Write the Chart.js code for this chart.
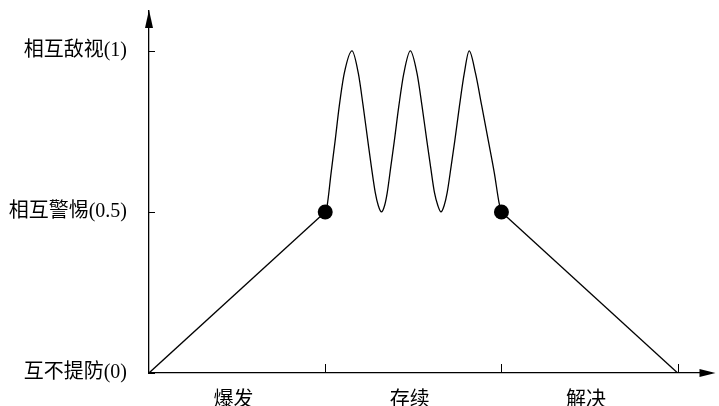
<!DOCTYPE html>
<html>
<head>
<meta charset="utf-8">
<script src="https://cdn.jsdelivr.net/npm/chart.js@4.4.1/dist/chart.umd.min.js"></script>
<style>
  html, body { margin: 0; padding: 0; background: #fff; }
  #wrap { width: 719px; height: 406px; }
</style>
</head>
<body>
<div id="wrap"><canvas id="c"></canvas></div>
<script>
// stages along the x axis, and the attitude levels on the y axis
const categories = ['爆发', '存续', '解决'];
const levelValues = [0, 0.5, 1];
const levelLabels = ['互不提防(0)', '相互警惕(0.5)', '相互敌视(1)'];
const stageBounds = [1, 2, 3];

// outbreak: straight rise
const riseX = [0, 1];
const riseY = [0, 0.5];

// persistence: oscillation
const waveX = [1.000, 1.011, 1.033, 1.056, 1.080, 1.108, 1.152,
               1.188, 1.215, 1.242, 1.262, 1.284, 1.301, 1.319,
               1.337, 1.352, 1.372, 1.392, 1.418, 1.446, 1.483,
               1.521, 1.549, 1.577, 1.598, 1.620, 1.639, 1.657,
               1.675, 1.692, 1.714, 1.735, 1.762, 1.789, 1.817,
               1.853, 1.888, 1.926, 1.960, 1.986, 2.000];
const waveY = [0.50, 0.52, 0.62, 0.72, 0.83, 0.93, 1.00,
               0.93, 0.83, 0.72, 0.64, 0.56, 0.52, 0.50,
               0.52, 0.56, 0.64, 0.72, 0.83, 0.93, 1.00,
               0.93, 0.83, 0.72, 0.64, 0.56, 0.52, 0.50,
               0.52, 0.56, 0.64, 0.72, 0.83, 0.93, 1.00,
               0.93, 0.83, 0.72, 0.62, 0.53, 0.50];

// resolution: straight fall
const fallX = [2, 3];
const fallY = [0.5, 0];

// the two turning points
const markerX = [1, 2];
const markerY = [0.5, 0.5];

const FONT = "'Liberation Serif', 'Noto Sans CJK SC', serif";

function pts(xs, ys) {
    return xs.map((x, i) => ({x: x, y: ys[i]}));
}

// arrows at the ends of the axes and the short inward ticks
const axisDecor = {
    id: 'axisDecor',
    afterDraw(chart) {
        const ctx = chart.ctx;
        const a = chart.chartArea;
        const xs = chart.scales.x, ys = chart.scales.y;
        const ox = xs.getPixelForValue(0), oy = ys.getPixelForValue(0);
        ctx.save();
        ctx.strokeStyle = '#000';
        ctx.fillStyle = '#000';
        ctx.lineWidth = 1;
        // y ticks, pointing right
        levelValues.forEach(v => {
            const py = Math.round(ys.getPixelForValue(v)) + 0.5;
            ctx.beginPath();
            ctx.moveTo(ox, py);
            ctx.lineTo(ox + 6, py);
            ctx.stroke();
        });
        // x ticks, pointing up
        stageBounds.forEach(v => {
            const px = Math.round(xs.getPixelForValue(v)) + 0.5;
            ctx.beginPath();
            ctx.moveTo(px, oy);
            ctx.lineTo(px, oy - 9);
            ctx.stroke();
        });
        // arrow heads
        ctx.beginPath();
        ctx.moveTo(ox, a.top - 1);
        ctx.lineTo(ox - 4, a.top + 17);
        ctx.lineTo(ox + 4, a.top + 17);
        ctx.closePath();
        ctx.fill();
        ctx.beginPath();
        ctx.moveTo(a.right + 4, oy);
        ctx.lineTo(a.right - 12, oy - 4);
        ctx.lineTo(a.right - 12, oy + 4);
        ctx.closePath();
        ctx.fill();
        ctx.restore();
    }
};

const lineStyle = {
    borderColor: '#000',
    borderWidth: 1.3,
    pointRadius: 0,
    fill: false
};

new Chart(document.getElementById('c'), {
    type: 'scatter',
    data: {
        datasets: [
            Object.assign({data: pts(riseX, riseY), showLine: true}, lineStyle),
            Object.assign({data: pts(waveX, waveY), showLine: true,
                           cubicInterpolationMode: 'monotone'}, lineStyle),
            Object.assign({data: pts(fallX, fallY), showLine: true}, lineStyle),
            {
                data: pts(markerX, markerY),
                showLine: false,
                pointRadius: 7.5,
                pointBackgroundColor: '#000',
                pointBorderColor: '#000',
                pointBorderWidth: 0
            }
        ]
    },
    options: {
        responsive: true,
        maintainAspectRatio: false,
        animation: false,
        layout: {padding: {top: 11, right: 1, left: 0, bottom: 0}},
        plugins: {legend: {display: false}, tooltip: {enabled: false}},
        scales: {
            x: {
                type: 'linear',
                min: 0,
                max: 3.192,
                afterBuildTicks(s) {
                    s.ticks = categories.map((c, i) => ({value: i + 0.48}));
                },
                afterFit(s) {
                    s.height = 33;
                    s.paddingLeft = 0;
                    s.paddingRight = 0;
                },
                ticks: {
                    autoSkip: false,
                    maxRotation: 0,
                    padding: 8,
                    color: '#000',
                    font: {family: FONT, size: 20},
                    callback: (v) => categories[Math.floor(v)]
                },
                grid: {display: false},
                border: {display: true, color: '#000', width: 1.3}
            },
            y: {
                type: 'linear',
                min: 0,
                max: 1.124,
                afterBuildTicks(s) {
                    s.ticks = levelValues.map(v => ({value: v}));
                },
                afterFit(s) {
                    s.width = 149;
                    s.paddingTop = 0;
                    s.paddingBottom = 0;
                },
                ticks: {
                    autoSkip: false,
                    padding: 14,
                    color: '#000',
                    font: {family: FONT, size: 20},
                    callback: (v) => levelLabels[levelValues.indexOf(v)]
                },
                grid: {display: false},
                border: {display: true, color: '#000', width: 1.3}
            }
        }
    },
    plugins: [axisDecor]
});
</script>
</body>
</html>
